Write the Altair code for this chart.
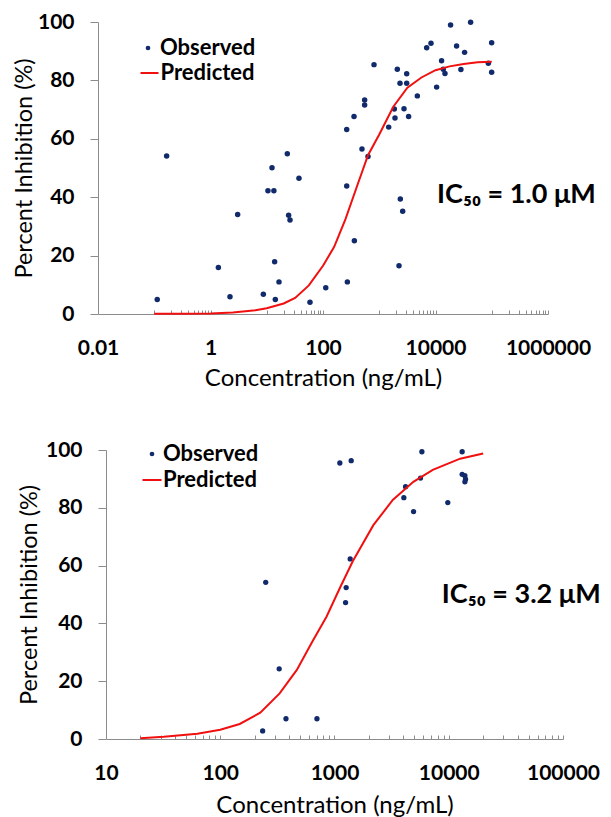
import altair as alt
import pandas as pd

# ---------------- data ----------------
# top panel: observed points
top_obs_conc = [0.113, 0.166, 1.38, 2.22, 3.04, 8.7, 10.5, 13.4, 12.4, 13.8, 14.2, 16.5,
                23.2, 24.5, 25.9, 37.4, 58.7, 112, 264, 264, 271, 356, 361, 493, 550, 550,
                631, 807, 1472, 1854, 1905, 2094, 2245, 2339, 2370, 2611, 2754, 3074, 3074,
                3327, 4756, 6966, 8318, 10480, 12830, 13740, 14740, 18530, 23710, 28300,
                32900, 42100, 86900, 99600, 99600]
top_obs_pct = [5.0, 54.1, 15.9, 5.9, 34.1, 6.8, 42.2, 42.2, 50.1, 17.9, 5.0, 11.0,
               54.9, 33.8, 32.2, 46.5, 4.0, 9.0, 63.2, 43.8, 11.0, 67.6, 25.1, 56.5, 73.3, 71.6,
               53.9, 85.4, 64.0, 70.2, 67.1, 83.8, 16.5, 79.0, 39.4, 35.2, 70.3, 82.3, 79.0,
               67.6, 74.7, 91.2, 92.7, 77.7, 86.7, 83.8, 82.4, 99.0, 91.8, 83.7,
               89.6, 99.9, 85.9, 92.9, 82.8]
# top panel: predicted curve
top_pred_conc = [0.1, 0.32, 1, 2.5, 6.3, 10, 20, 32, 56, 100, 158, 251, 398, 631, 1000,
                 1778, 3162, 5623, 10000, 17783, 31623, 56234, 100000]
top_pred_pct = [0.1, 0.1, 0.2, 0.5, 1.3, 2.0, 3.6, 5.5, 9.8, 16.5, 23.0, 32.5, 43.5, 54.4, 61.5,
                71.0, 77.5, 81.0, 83.5, 84.8, 85.6, 86.2, 86.4]

# bottom panel: observed points
bot_obs_conc = [235, 250, 328, 376, 702, 1114, 1400, 1372, 1265, 1250, 5820, 4188, 4045,
                4920, 5660, 9810, 13100, 13100, 13840, 14030, 13840]
bot_obs_pct = [2.8, 54.2, 24.3, 7.0, 7.0, 95.5, 96.3, 62.3, 52.4, 47.2, 99.4, 87.3, 83.5,
               78.7, 90.3, 81.8, 99.4, 91.6, 91.1, 89.9, 89.0]
# bottom panel: predicted curve
bot_pred_conc = [20, 32, 63, 100, 148, 224, 331, 468, 646, 851, 1122, 1445, 2188, 3236,
                 4898, 7244, 12589, 20000]
bot_pred_pct = [0.3, 0.8, 1.8, 3.2, 5.2, 9.1, 15.8, 23.9, 34.0, 42.3, 52.5, 61.5, 74.0, 82.7,
                89.0, 93.1, 97.0, 98.8]

# axes
top_x_domain = [0.01, 1000000]
top_x_labels = [0.01, 1, 100, 10000, 1000000]
top_minor = ([round(k * 0.1, 2) for k in range(1, 11)] + [k * 10 for k in range(1, 11)]
             + [k * 1000 for k in range(1, 11)] + [k * 100000 for k in range(1, 11)])
bot_x_domain = [10, 100000]
bot_x_labels = [10, 100, 1000, 10000, 100000]
bot_minor = [k * 10 ** e for e in range(1, 5) for k in range(2, 11)]
y_labels = [0, 20, 40, 60, 80, 100]

top_note = "IC₅₀ = 1.0 μM"
top_note_pos = [10640, 40.8]
bot_note = "IC₅₀ = 3.2 μM"
bot_note_pos = [8700, 49.8]

# ---------------- styling ----------------
FONT = "Lato"
NAVY = "#102a6b"
RED = "#f01010"
GRAY = "#8c8c8c"
W, H = 465, 717


def panel(obs_c, obs_p, pred_c, pred_p, xdom, xlabels, minor, note, note_pos,
          xrange, yrange, x_off, y_off, minor_off, title_y, ytitle_x,
          leg_obs, leg_pred, dot_size):
    obs = pd.DataFrame({"conc": obs_c, "pct": obs_p, "series": "Observed"})
    pred = pd.DataFrame({"conc": pred_c, "pct": pred_p, "series": "Predicted"})
    ann = pd.DataFrame({"conc": [note_pos[0]], "pct": [note_pos[1]], "text": [note]})

    xs = alt.Scale(type="log", domain=xdom, range=xrange, nice=False)
    ys = alt.Scale(domain=[0, 100], range=yrange, nice=False, zero=False)

    points = alt.Chart(obs).mark_point(filled=True, size=dot_size, opacity=1, strokeWidth=0).encode(
        x=alt.X("conc:Q", scale=xs, axis=alt.Axis(
            orient="bottom", offset=x_off, values=xlabels, ticks=False, tickSize=0,
            labelPadding=23, format="~f", labelFlush=False, labelOverlap=False,
            title="Concentration (ng/mL)", titleFontSize=24, titleY=title_y,
            titleBaseline="alphabetic")),
        y=alt.Y("pct:Q", scale=ys, axis=alt.Axis(
            orient="left", offset=y_off, values=y_labels, tickSize=8, labelPadding=16,
            title="Percent Inhibition (%)", titleFontSize=23.5, titleX=ytitle_x,
            titleBaseline="middle", titleAngle=-90)),
        fill=alt.Fill("series:N", scale=alt.Scale(domain=["Observed"], range=[NAVY]),
                      legend=alt.Legend(orient="none", legendX=leg_obs[0], legendY=leg_obs[1],
                                        title=None, symbolType="circle", symbolSize=22,
                                        symbolStrokeWidth=0, labelOffset=leg_obs[2], padding=0)),
    )
    line = alt.Chart(pred).mark_line(strokeWidth=2).encode(
        x=alt.X("conc:Q", scale=xs, axis=alt.Axis(
            orient="top", offset=minor_off, values=minor, labels=False, domain=False,
            ticks=True, tickSize=4, title=None)),
        y=alt.Y("pct:Q", scale=ys, axis=None),
        stroke=alt.Stroke("series:N", scale=alt.Scale(domain=["Predicted"], range=[RED]),
                          legend=alt.Legend(orient="none", legendX=leg_pred[0], legendY=leg_pred[1],
                                            title=None, symbolType="stroke", symbolSize=leg_pred[3],
                                            symbolStrokeWidth=2, labelOffset=leg_pred[2], padding=0)),
    )
    text = alt.Chart(ann).mark_text(align="left", baseline="middle", font=FONT, fontSize=27,
                                    fontWeight="bold", color="#000000").encode(
        x=alt.X("conc:Q", scale=xs, axis=None),
        y=alt.Y("pct:Q", scale=ys, axis=None),
        text="text:N",
    )
    return [points, line, text]


top = panel(top_obs_conc, top_obs_pct, top_pred_conc, top_pred_pct, top_x_domain, top_x_labels,
            top_minor, top_note, top_note_pos,
            xrange=[0, 450], yrange=[292, 0], x_off=292 - H, y_off=0, minor_off=-292,
            title_y=71, ytitle_x=-74,
            leg_obs=(39, 15, 1), leg_pred=(40.5, 40, 0, 324), dot_size=30)
bot = panel(bot_obs_conc, bot_obs_pct, bot_pred_conc, bot_pred_pct, bot_x_domain, bot_x_labels,
            bot_minor, bot_note, bot_note_pos,
            xrange=[8, 465], yrange=[717, 428], x_off=0, y_off=-8, minor_off=-H,
            title_y=73, ytitle_x=-77,
            leg_obs=(43, 421, 0), leg_pred=(43, 447, 0, 361), dot_size=28)

chart = alt.layer(*top, *bot).resolve_scale(
    x="independent", y="independent", fill="independent", stroke="independent"
).resolve_axis(x="independent", y="independent").resolve_legend(
    fill="independent", stroke="independent"
).properties(
    width=W, height=H,
    autosize=alt.AutoSizeParams(type="none"),
    padding={"left": 90, "top": 14, "right": 40, "bottom": 78},
).configure_view(strokeWidth=0).configure_axis(
    grid=False, labelFont=FONT, labelFontSize=21, labelFontWeight="bold", labelColor="#000000",
    titleFont=FONT, titleFontWeight="normal", titleColor="#000000",
    domainColor=GRAY, tickColor=GRAY, domainWidth=1, tickWidth=1,
).configure_legend(
    labelFont=FONT, labelFontSize=22, labelFontWeight="bold", labelColor="#000000",
)

chart.save("out.html", embed_options={"renderer": "svg", "actions": False})
